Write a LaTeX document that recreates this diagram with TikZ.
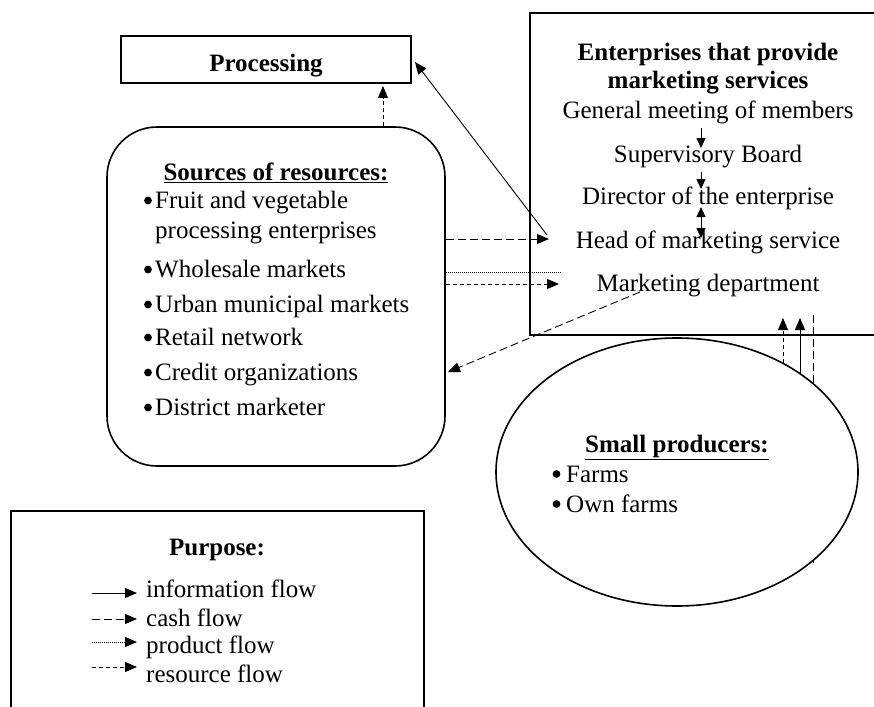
\documentclass[tikz,border=0pt]{standalone}
\usepackage{fontspec}
\setmainfont{Liberation Serif}
\usetikzlibrary{arrows.meta,shapes.geometric,calc}
\begin{document}
\begin{tikzpicture}[x=1pt,y=-1pt,
  box/.style={draw, line width=1.6pt, inner sep=0pt},
  txt/.style={inner sep=0pt, font=\fontsize{25}{30}\selectfont},
  btxt/.style={inner sep=0pt, font=\fontsize{25}{30}\selectfont\bfseries},
  bul/.style={fill=black},
  tip/.style={-{Triangle[length=12pt,width=10pt]}},
  stip/.style={-{Triangle[length=10pt,width=9pt]}},
  dtip/.style={{Triangle[length=10pt,width=9pt]}-{Triangle[length=10pt,width=9pt]}},
  info/.style={line width=0.9pt},
  cash/.style={line width=0.9pt, dash pattern=on 8pt off 4pt},
  prod/.style={line width=0.8pt, dash pattern=on 1pt off 1pt},
  res/.style={line width=0.9pt, dash pattern=on 4pt off 3pt},
]
\useasboundingbox (0,0) rectangle (874,706);

% ---------- Processing ----------
\node[box, minimum width=290pt, minimum height=47pt] (proc) at (266,59.5) {};
\node[btxt, anchor=base] (proct) at (266,72) {Processing};

% ---------- Enterprises ----------
\node[box, minimum width=356pt, minimum height=322pt] (ent) at (708,174) {};
\node[btxt, anchor=base] (e1) at (708,61) {Enterprises that provide};
\node[btxt, anchor=base] (e2) at (708,89) {marketing services};
\node[txt, anchor=base] (gm) at (708,118) {General meeting of members};
\node[txt, anchor=base] (sb) at (708,162) {Supervisory Board};
\node[txt, anchor=base] (dir) at (708,204) {Director of the enterprise};
\node[txt, anchor=base] (head) at (708,248) {Head of marketing service};
\node[txt, anchor=base] (mkt) at (708,291) {Marketing department};

\draw[info, stip] (701,128) -- (701,148);
\draw[info, stip] (701,172) -- (701,189);
\draw[info, dtip] (701,207) -- (701,238);

% ---------- Sources of resources ----------
\node[box, rounded corners=50pt, minimum width=338pt, minimum height=339pt] (src) at (276,296.5) {};
\node[btxt, anchor=base] (srct) at (276,180) {\underline{Sources of resources:}};
\node[txt, anchor=base west] (s1) at (155,208) {Fruit and vegetable};
\node[txt, anchor=base west] (s1b) at (155,238) {processing enterprises};
\node[txt, anchor=base west] (s2) at (155,277) {Wholesale markets};
\node[txt, anchor=base west] (s3) at (155,312) {Urban municipal markets};
\node[txt, anchor=base west] (s4) at (155,345) {Retail network};
\node[txt, anchor=base west] (s5) at (155,380) {Credit organizations};
\node[txt, anchor=base west] (s6) at (155,415) {District marketer};
\foreach \n in {s1,s2,s3,s4,s5,s6}
  \fill[bul] ($(\n.base west)+(-7,-7.5)$) circle (3.9pt);

% ---------- Connectors between blocks ----------
\coordinate (headL) at (547,235);
\coordinate (procR) at (415,62);
\draw[info, tip] (headL) -- (procR);
\draw[res, tip] (383,0 |- src.north) -- (383,86);

\coordinate (cashE) at (549,239);
\draw[cash, tip] (src.east |- cashE) -- (cashE);
\coordinate (prodE) at (560,272);
\draw[prod] (src.east |- prodE) -- (prodE);
\coordinate (resE) at (559,284);
\draw[res, tip] (src.east |- resE) -- (resE);
\coordinate (mktL) at (640,292);
\coordinate (srcR) at (448,372);
\draw[cash, tip] (mktL) -- (srcR);

% ---------- Small producers ----------
\coordinate (vtop) at (813,315);
\coordinate (vbot) at (813,566);
\draw[cash] (vtop) -- (vbot);
\node[ellipse, draw, line width=1.6pt, fill=white, inner sep=0pt,
      minimum width=362pt, minimum height=268pt] (small) at (677,472) {};
\node[btxt, anchor=base] (smallt) at (677,452) {\underline{Small producers:}};
\node[txt, anchor=base west] (f1) at (566,482) {Farms};
\node[txt, anchor=base west] (f2) at (566,512) {Own farms};
\foreach \n in {f1,f2}
  \fill[bul] ($(\n.base west)+(-9.5,-8)$) circle (3.9pt);

\coordinate (r1a) at (783,363); \coordinate (r1b) at (783,318);
\draw[res, tip] (r1a) -- (r1b);
\coordinate (i1a) at (800,374); \coordinate (i1b) at (800,318);
\draw[info, tip] (i1a) -- (i1b);

% ---------- Legend ----------
\draw[line width=1.6pt] (11,720) -- (11,511) -- (424,511) -- (424,720);
\node[btxt, anchor=base] (purp) at (217,555) {Purpose:};
\coordinate (l1a) at (92,593); \coordinate (l1b) at (137,593);
\draw[info, tip] (l1a) -- (l1b);
\node[txt, anchor=base west] (lt1) at (146,597) {information flow};
\coordinate (l2a) at (92,619); \coordinate (l2b) at (137,619);
\draw[cash, tip] (l2a) -- (l2b);
\node[txt, anchor=base west] (lt2) at (146,626) {cash flow};
\coordinate (l3a) at (92,642); \coordinate (l3b) at (137,642);
\draw[prod, tip] (l3a) -- (l3b);
\node[txt, anchor=base west] (lt3) at (146,653) {product flow};
\coordinate (l4a) at (92,667); \coordinate (l4b) at (137,667);
\draw[res, tip] (l4a) -- (l4b);
\node[txt, anchor=base west] (lt4) at (146,682) {resource flow};
\end{tikzpicture}
\end{document}
